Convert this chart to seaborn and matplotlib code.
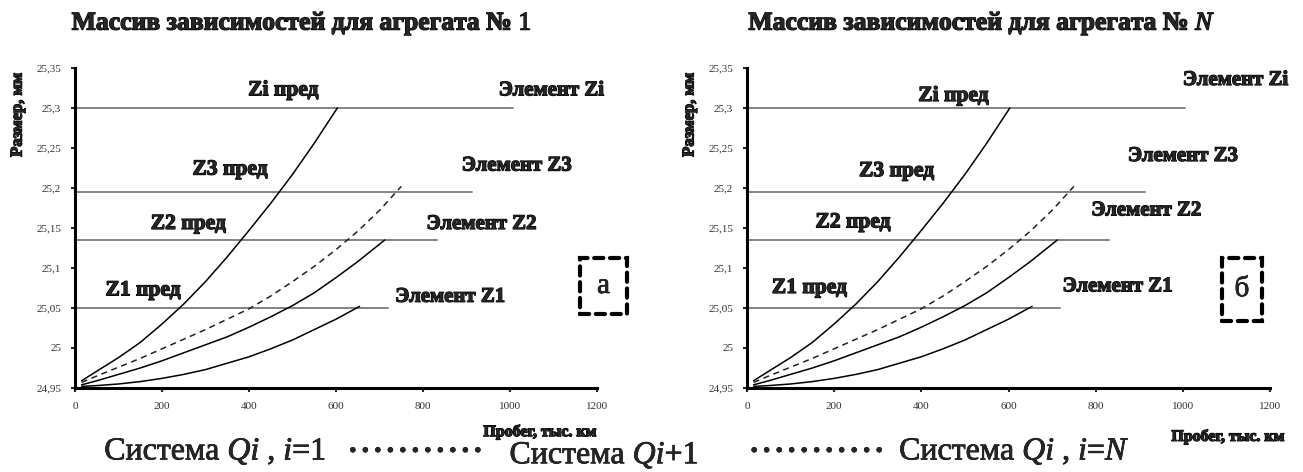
import pandas as pd
import seaborn as sns
import matplotlib.pyplot as plt
import matplotlib.patheffects as pe
from matplotlib.patches import Rectangle

# curves: mileage (thousand km) -> size (mm)
zi_x = [15, 50, 100, 150, 200, 250, 300, 350, 400, 450, 500, 550, 603]
zi_y = [24.959, 24.971, 24.988, 25.007, 25.030, 25.055, 25.083, 25.114, 25.147, 25.181,
        25.217, 25.256, 25.300]
z3_x = [15, 50, 100, 150, 200, 250, 300, 350, 400, 450, 500, 550, 600, 650, 700, 750]
z3_y = [24.957, 24.965, 24.976, 24.987, 24.999, 25.011, 25.023, 25.036, 25.049, 25.065,
        25.083, 25.102, 25.123, 25.146, 25.172, 25.202]
z2_x = [15, 50, 100, 150, 200, 250, 300, 350, 400, 450, 500, 550, 600, 650, 712]
z2_y = [24.954, 24.959, 24.967, 24.975, 24.984, 24.994, 25.004, 25.014, 25.026, 25.039,
        25.053, 25.069, 25.088, 25.108, 25.135]
z1_x = [15, 50, 100, 150, 200, 250, 300, 350, 400, 450, 500, 550, 600, 654]
z1_y = [24.952, 24.953, 24.955, 24.958, 24.962, 24.967, 24.973, 24.981, 24.989, 24.999,
        25.010, 25.023, 25.036, 25.052]

# limit levels and where the level lines stop
limit_levels = [25.05, 25.135, 25.195, 25.30]
limit_ends = [719, 831, 912, 1006]

x_ticks = [0, 200, 400, 600, 800, 1000, 1200]
y_ticks = [24.95, 25.0, 25.05, 25.1, 25.15, 25.2, 25.25, 25.3, 25.35]
y_tick_labels = ["24,95", "25", "25,05", "25,1", "25,15", "25,2", "25,25", "25,3", "25,35"]

titles = [r"Массив зависимостей для агрегата № $\mathit{1}$",
          r"Массив зависимостей для агрегата № $\mathit{N}$"]
pred_labels = ["Z1 пред", "Z2 пред", "Z3 пред", "Zi пред"]
elem_labels = ["Элемент Z1", "Элемент Z2", "Элемент Z3", "Элемент Zi"]
panel_marks = ["а", "б"]

frames = []
for name, xs, ys in [("zi", zi_x, zi_y), ("z3", z3_x, z3_y), ("z2", z2_x, z2_y), ("z1", z1_x, z1_y)]:
    frames.append(pd.DataFrame({"probeg": xs, "razmer": ys, "curve": name}))
df = pd.concat(frames, ignore_index=True)

sns.set_style("ticks")
plt.rcParams["font.family"] = ["Liberation Serif", "DejaVu Serif"]
plt.rcParams["mathtext.fontset"] = "custom"
plt.rcParams["mathtext.rm"] = "Liberation Serif"
plt.rcParams["mathtext.it"] = "Liberation Serif:italic"
plt.rcParams["mathtext.bf"] = "Liberation Serif:bold"

heavy = [pe.withStroke(linewidth=0.9, foreground="black")]
semi = [pe.withStroke(linewidth=0.5, foreground="black")]

fig = plt.figure(figsize=(13.03, 4.72), dpi=100)
ax_l = fig.add_axes([0.0576, 0.178, 0.4006, 0.678])
ax_r = fig.add_axes([0.5733, 0.178, 0.4014, 0.678])

# per-panel label placement (data coords, left edge / centre)
pred_pos = [[(70, 25.072), (174, 25.155), (270, 25.223), (398, 25.322)],
            [(57, 25.075), (157, 25.157), (257, 25.221), (393, 25.315)]]
elem_pos = [[(736, 25.064), (808, 25.155), (889, 25.228), (974, 25.322)],
            [(724, 25.077), (790, 25.172), (874, 25.240), (1000, 25.335)]]
mark_box = [(1160, 25.042, 110, 0.071), (1090, 25.034, 91, 0.079)]
title_x = [0.435, 0.45]

for k, ax in enumerate([ax_l, ax_r]):
    for lvl, end in zip(limit_levels, limit_ends):
        ax.plot([0, end], [lvl, lvl], color="#7a7a7a", lw=1.3, zorder=1)
    sns.lineplot(data=df[df.curve != "z3"], x="probeg", y="razmer", units="curve",
                 estimator=None, color="black", lw=1.1, ax=ax, zorder=3)
    sns.lineplot(data=df[df.curve == "z3"], x="probeg", y="razmer", estimator=None,
                 color="#222222", lw=1.1, ls=(0, (4, 3)), ax=ax, zorder=3)
    ax.set_xlim(0, 1200)
    ax.set_ylim(24.95, 25.35)
    ax.set_xticks(x_ticks)
    ax.set_xticklabels([str(t) for t in x_ticks], fontsize=8, color="#333333")
    ax.set_yticks(y_ticks)
    ax.set_yticklabels(y_tick_labels, fontsize=8, color="#333333")
    ax.tick_params(direction="out", length=3, width=1.5, pad=7)
    for s in ["top", "right"]:
        ax.spines[s].set_visible(False)
    for s in ["left", "bottom"]:
        ax.spines[s].set_linewidth(2.2)
        ax.spines[s].set_color("black")
    ax.set_xlabel("")
    ax.set_ylabel("")
    for txt, (px, py) in zip(pred_labels, pred_pos[k]):
        ax.text(px, py, txt, fontsize=15.5, fontweight="bold", va="center", ha="left",
                clip_on=False, path_effects=heavy)
    for txt, (px, py) in zip(elem_labels, elem_pos[k]):
        ax.text(px, py, txt, fontsize=15, fontweight="bold", va="center", ha="left",
                clip_on=False, path_effects=heavy)
    bx, by, bw, bh = mark_box[k]
    ax.add_patch(Rectangle((bx, by), bw, bh, fill=False, ec="black", lw=3.0,
                           ls=(0, (2.2, 1.6)), capstyle="round", clip_on=False, zorder=4))
    ax.text(bx + bw / 2, by + bh / 2, panel_marks[k], fontsize=21, ha="center", va="center",
            clip_on=False, path_effects=semi)
    ax.text(title_x[k], 1.14, titles[k], transform=ax.transAxes, fontsize=18.5,
            fontweight="bold", ha="center", va="center", path_effects=heavy)
    ax.text(-0.11, 0.853, "Размер, мм", transform=ax.transAxes, rotation=90, fontsize=12,
            fontweight="bold", ha="center", va="center", path_effects=heavy)

# x labels
fig.text(0.458, 0.085, "Пробег, тыс. км", fontsize=11.5, fontweight="bold", ha="right",
         va="center", path_effects=heavy)
fig.text(0.986, 0.075, "Пробег, тыс. км", fontsize=11.5, fontweight="bold", ha="right",
         va="center", path_effects=heavy)

# bottom system caption
dots = "\u2022 " * 10 + "\u2022"
fig.text(0.080, 0.042, r"Система $\mathit{Qi}$ , $\mathit{i}$=$\mathit{1}$", fontsize=23,
         ha="left", va="center", path_effects=semi)
fig.text(0.268, 0.042, dots, fontsize=15, ha="left", va="center", path_effects=semi)
fig.text(0.391, 0.035, r"Система $\mathit{Qi}$+$\mathit{1}$", fontsize=23, ha="left",
         va="center", path_effects=semi)
fig.text(0.576, 0.042, dots, fontsize=15, ha="left", va="center", path_effects=semi)
fig.text(0.690, 0.042, r"Система $\mathit{Qi}$ , $\mathit{i}$=$\mathit{N}$", fontsize=23,
         ha="left", va="center", path_effects=semi)

fig.savefig("out.png", dpi=100)
